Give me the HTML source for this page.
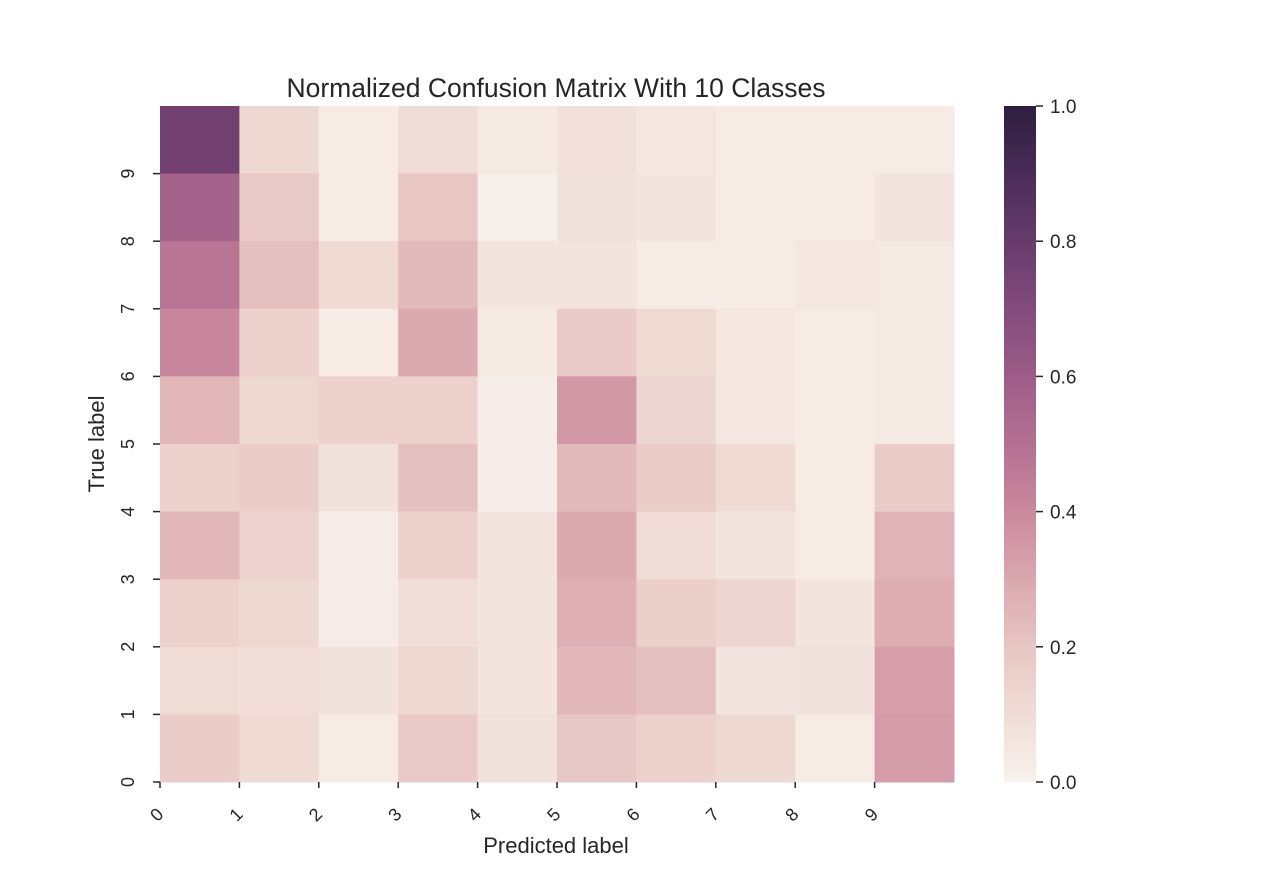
<!DOCTYPE html>
<html><head><meta charset="utf-8"><style>
body{margin:0;background:#fff;}
svg text{font-family:"Liberation Sans",sans-serif;fill:#262626;}
</style></head><body>
<svg id="chart" width="1280" height="880">
<defs><linearGradient id="cbg" x1="0" y1="1" x2="0" y2="0"></linearGradient></defs>
<text x="556" y="97" font-size="26.5" text-anchor="middle">Normalized Confusion Matrix With 10 Classes</text>
<g id="cells"></g>
<g id="axes"></g>
<text x="556" y="853" font-size="22" text-anchor="middle">Predicted label</text>
<text transform="translate(104,444) rotate(-90)" font-size="22" text-anchor="middle">True label</text>
<rect x="1004" y="106" width="32" height="676" fill="url(#cbg)"/>
<g id="cbaxis"></g>
</svg>
<script>
const rowLabels=[9,8,7,6,5,4,3,2,1,0];
const colLabels=[0,1,2,3,4,5,6,7,8,9];
// rows top to bottom
const r0=[0.76,0.12,0.03,0.10,0.04,0.08,0.05,0.03,0.03,0.03];
const r1=[0.57,0.18,0.03,0.20,0.01,0.07,0.06,0.03,0.03,0.06];
const r2=[0.48,0.22,0.11,0.24,0.06,0.06,0.03,0.03,0.05,0.04];
const r3=[0.41,0.15,0.03,0.29,0.04,0.18,0.11,0.05,0.03,0.04];
const r4=[0.25,0.12,0.15,0.15,0.02,0.35,0.13,0.05,0.03,0.04];
const r5=[0.15,0.17,0.07,0.22,0.02,0.24,0.17,0.11,0.03,0.17];
const r6=[0.25,0.14,0.02,0.15,0.06,0.29,0.10,0.06,0.03,0.26];
const r7=[0.15,0.12,0.02,0.09,0.06,0.27,0.16,0.13,0.06,0.28];
const r8=[0.10,0.09,0.07,0.12,0.06,0.25,0.22,0.06,0.07,0.33];
const r9=[0.17,0.11,0.03,0.18,0.07,0.19,0.15,0.12,0.03,0.34];
const matrix=[r0,r1,r2,r3,r4,r5,r6,r7,r8,r9];
const cbTicks=[0,0.2,0.4,0.6,0.8,1.0];
const stops=["#f8f1ec","#f0dcd6","#e7c6c4","#daa7ae","#ca899e","#b47092","#9c5d87","#824b7c","#673b6c","#4a2c57","#2d1e3e"];
const NS="http://www.w3.org/2000/svg";
const X0=160,X1=954,Y0=106,Y1=782;
const cw=(X1-X0)/colLabels.length, ch=(Y1-Y0)/matrix.length;
const xs=i=>X0+i*cw, ys=i=>Y0+i*ch, vy=v=>Y1-v*(Y1-Y0);
function hex(h){return [1,3,5].map(i=>parseInt(h.substr(i,2),16));}
function color(v){v=Math.max(0,Math.min(1,v));const p=v*(stops.length-1),i=Math.min(Math.floor(p),stops.length-2),t=p-i;
const a=hex(stops[i]),b=hex(stops[i+1]);return "rgb("+a.map((c,k)=>Math.round(c+(b[k]-c)*t)).join(",")+")";}
function mk(tag,attrs,parent){const e=document.createElementNS(NS,tag);for(const k in attrs)e.setAttribute(k,attrs[k]);parent.appendChild(e);return e;}
const g=document.getElementById('cells');
matrix.forEach((row,r)=>row.forEach((v,c)=>{
 const e=mk('rect',{x:xs(c),y:ys(r),width:cw+0.5,height:ch+0.5,fill:color(v)},g);
 
 
}));
const grad=document.getElementById('cbg');
stops.forEach((s,i)=>{mk('stop',{offset:(i/(stops.length-1)),'stop-color':s},grad);});
const ax=document.getElementById('axes');
colLabels.forEach((l,i)=>{
 const x=xs(i);
 mk('line',{x1:x,y1:Y1,x2:x,y2:Y1+6,stroke:'#262626','stroke-width':1.5},ax);
 const t=mk('text',{transform:'translate('+(x+1)+','+(Y1+37)+') rotate(-45)','font-size':18,'text-anchor':'middle'},ax);
 t.textContent=l;
 
 
});
rowLabels.slice().reverse().forEach((l,i)=>{
 const y=Y1-i*ch;
 mk('line',{x1:X0-7,y1:y,x2:X0,y2:y,stroke:'#262626','stroke-width':1.5},ax);
 const t=mk('text',{transform:'translate('+(X0-32)+','+y+') rotate(-90)','font-size':18,'text-anchor':'middle','dominant-baseline':'central'},ax);
 t.textContent=l;
 
 
});
const cb=document.getElementById('cbaxis');
cbTicks.forEach(v=>{
 const y=vy(v);
 mk('line',{x1:1036,y1:y,x2:1043,y2:y,stroke:'#262626','stroke-width':1.5},cb);
 const t=mk('text',{x:1050,y:y+7,'font-size':19},cb);
 t.textContent=v.toFixed(1);
 
 
});
</script>
</body></html>
